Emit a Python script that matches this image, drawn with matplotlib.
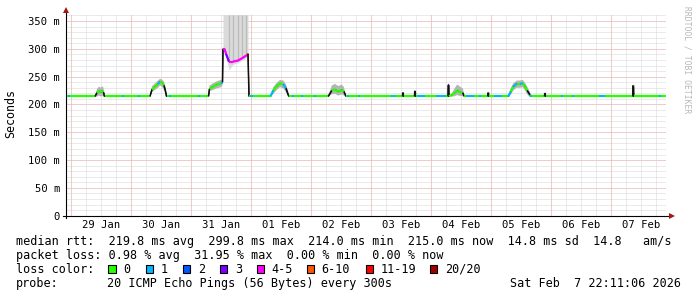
import matplotlib
matplotlib.use("Agg")
import matplotlib.pyplot as plt
from matplotlib.collections import LineCollection
from matplotlib.patches import Rectangle
import numpy as np

W, H = 697, 297

# time axis: hours since 29 Jan 00:00, graph ends Sat Feb 7 22:11
t_start, t_end = -1.82, 238.18
day_labels = ["29 Jan", "30 Jan", "31 Jan", "01 Feb", "02 Feb",
              "03 Feb", "04 Feb", "05 Feb", "06 Feb", "07 Feb"]

# median rtt (ms)
hours = [-1.82, 9.7, 10.5, 11.3, 12.1, 12.5, 13.1, 13.5,
         31.7, 32.5, 33.7, 34.9, 35.7, 36.5, 37.3, 37.9, 38.3,
         55.1, 55.5, 56.9, 58.5, 60.1, 60.7, 60.9, 61.5, 62.1, 63.3, 64.9,
         66.9, 68.9, 70.5, 70.9, 71.3,
         79.9, 81.0, 82.4, 83.7, 85.0, 86.1, 87.0, 87.4,
         103.0, 104.4, 105.7, 107.0, 108.4, 109.3, 110.1,
         132.7, 132.8, 133.0, 133.1,
         137.5, 137.6, 137.8, 137.9,
         150.9, 151.0, 151.2, 151.3,
         152.4, 153.7, 154.6, 155.7, 156.8, 157.3, 157.7,
         166.8, 166.9, 167.1, 167.2,
         175.0, 176.0, 177.0, 178.4, 179.7, 180.8, 181.7, 182.6, 183.7, 184.4,
         189.5, 189.6, 189.8, 189.9,
         224.8, 224.9, 225.1, 225.2,
         238.18]
median = [214.5, 214.5, 221, 224, 222, 225, 222, 214.5,
          214.5, 227, 232, 237, 241, 239, 234, 224, 214.5,
          214.5, 228, 232, 236, 238, 240, 300, 300, 291, 277, 277,
          279, 284, 289, 291, 214.5,
          214.5, 225, 233, 238, 236, 229, 217, 214.5,
          214.5, 225, 227, 223, 226, 223, 214.5,
          214.5, 221, 221, 214.5,
          214.5, 224, 224, 214.5,
          214.5, 235, 235, 214.5,
          217, 221, 225, 222, 221, 215, 214.5,
          214.5, 221, 221, 214.5,
          214.5, 223, 232, 237, 237, 238, 232, 225, 217, 214.5,
          214.5, 220, 220, 214.5,
          214.5, 234, 234, 214.5,
          214.5]
smoke_hi = [214.5, 214.5, 228, 232, 230, 233, 230, 214.5,
            214.5, 233, 238, 243, 246, 245, 241, 232, 214.5,
            214.5, 234, 238, 242, 244, 246, 400, 400, 400, 400, 400,
            400, 400, 400, 400, 214.5,
            214.5, 231, 239, 244, 243, 236, 224, 214.5,
            214.5, 234, 237, 233, 236, 231, 214.5,
            214.5, 221, 221, 214.5,
            214.5, 224, 224, 214.5,
            214.5, 235, 235, 214.5,
            220, 230, 236, 232, 229, 220, 214.5,
            214.5, 221, 221, 214.5,
            214.5, 229, 238, 243, 243, 244, 239, 232, 222, 214.5,
            214.5, 220, 220, 214.5,
            214.5, 234, 234, 214.5,
            214.5]
smoke_lo = [214.5, 214.5, 214, 216, 214, 216, 214, 214.5,
            214.5, 222, 226, 230, 234, 232, 226, 218, 214.5,
            214.5, 224, 226, 229, 231, 234, 296, 295, 285, 262, 272,
            275, 280, 285, 287, 214.5,
            214.5, 219, 226, 231, 229, 222, 213, 214.5,
            214.5, 218, 219, 216, 218, 216, 214.5,
            214.5, 221, 221, 214.5,
            214.5, 224, 224, 214.5,
            214.5, 235, 235, 214.5,
            214, 215, 217, 215, 215, 214, 214.5,
            214.5, 221, 221, 214.5,
            214.5, 217, 225, 230, 230, 231, 225, 218, 213, 214.5,
            214.5, 220, 220, 214.5,
            214.5, 234, 234, 214.5,
            214.5]
# loss class of the segment starting at each point (-1 = steep edge, drawn dark)
seg_loss = [0, -1, 0, 0, 0, 0, -1, 0,
            -1, 0, 0, 1, 0, 0, -1, -1, 0,
            -1, 0, 0, 0, 1, -1, 4, 4, 3, 4, 4,
            4, 4, 5, -1, 0,
            1, 0, 0, 0, 1, -1, -1, 0,
            -1, 0, 0, 0, 0, -1, 0,
            -1, 0, -1, 0,
            -1, 0, -1, 0,
            -1, 3, -1, 0,
            0, 0, 0, 0, -1, 0, 0,
            -1, 1, -1, 0,
            1, 0, 1, 0, 1, 0, 0, -1, 0, 0,
            -1, -1, -1, 0,
            -1, 0, -1, 0,
            0]

# single lost pings on the flat baseline
baseline_ms = 214.5
loss1_hours = [-0.6, 20.8, 27.4, 39.7, 51.1, 72.0, 72.6, 88.9, 92.4, 97.7,
               111.0, 115.4, 128.4, 129.7, 139.0, 139.8, 140.6, 141.4,
               146.5, 147.3, 148.1, 148.9, 149.7, 158.5, 159.3, 160.1, 160.9,
               163.7, 169.7, 170.5, 171.3, 172.1, 184.0, 196.4, 201.0,
               211.7, 212.5, 213.3, 235.7]

# outlier streaks during the loss period on 31 Jan
streak_hours = [63.3, 64.9, 66.9, 68.5, 70.1]
streak_bottom = [277, 277, 279, 283, 288]

loss_labels = ["0", "1", "2", "3", "4-5", "6-10", "11-19", "20/20"]
loss_colors = ["#26ff00", "#00b8ff", "#0059ff", "#7e00ff",
               "#ff00fe", "#ff5500", "#ff0000", "#a00000"]

y_ticks = [0, 50, 100, 150, 200, 250, 300, 350]
y_tick_labels = ["0", "50 m", "100 m", "150 m", "200 m", "250 m", "300 m", "350 m"]
y_top = 361.7

mono = "DejaVu Sans Mono"

fig = plt.figure(figsize=(W / 100, H / 100), dpi=100)
fig.patch.set_facecolor("white")
ax_l, ax_r, ax_t, ax_b = 66.2, 666.2, 14.5, 215.7
ax = fig.add_axes([ax_l / W, 1 - ax_b / H, (ax_r - ax_l) / W, (ax_b - ax_t) / H])
ax.set_xlim(t_start, t_end)
ax.set_ylim(0, y_top)
for s in ax.spines.values():
    s.set_visible(False)

# dotted grid
dots = (0, (1, 1))
minor_c, major_c = "#d6d6d6", "#f0b0b0"
for v in np.arange(10, y_top, 10):
    ax.axhline(v, color=minor_c, lw=0.72, ls=dots, zorder=0)
for v in y_ticks[1:]:
    ax.axhline(v, color=major_c, lw=0.72, ls=dots, zorder=0)
for h in np.arange(0, t_end, 6):
    ax.axvline(h, color=minor_c, lw=0.72, ls=dots, zorder=0)
for h in np.arange(0, t_end, 24):
    ax.axvline(h, color=major_c, lw=0.72, ls=dots, zorder=0)

# smoke: tall outliers light, normal jitter darker
tall = np.array(smoke_hi) > y_top
ax.fill_between(hours, smoke_lo, smoke_hi, where=tall, color="#dadada", lw=0, zorder=1)
ax.fill_between(hours, smoke_lo, smoke_hi, where=~tall, color="#b4b4b4", lw=0, zorder=1)
ax.vlines(streak_hours, streak_bottom, y_top, color="#bcbcbc", lw=0.9, zorder=1)

# median line, coloured by loss
ax.plot(hours, median, color="#202020", lw=0.8, zorder=2)
pts = np.column_stack([hours, median])
segs, cols, lws = [], [], []
for i in range(len(hours) - 1):
    segs.append([pts[i], pts[i + 1]])
    if seg_loss[i] < 0:
        cols.append("#101010")
        lws.append(1.1)
    else:
        cols.append(loss_colors[seg_loss[i]])
        lws.append(1.6)
ax.add_collection(LineCollection(segs, colors=cols, linewidths=lws, zorder=3,
                                 capstyle="butt"))
ax.plot(loss1_hours, [baseline_ms] * len(loss1_hours), ls="none", marker="s",
        ms=1.7, mew=0, color=loss_colors[1], zorder=4)

# ticks and labels
ax.set_yticks(y_ticks, y_tick_labels)
ax.set_xticks(np.arange(12, t_end, 24), day_labels)
ax.tick_params(length=0, labelsize=7.6, colors="black")
ax.tick_params(axis="y", pad=4.4)
ax.tick_params(axis="x", pad=3.4)
for lab in ax.get_xticklabels() + ax.get_yticklabels():
    lab.set_family(mono)

# axes with arrows
ax.plot([-0.006, 1.006], [0, 0], transform=ax.transAxes, color="black",
        lw=0.8, clip_on=False, zorder=6)
ax.plot([0, 0], [-0.011, 1.01], transform=ax.transAxes, color="black",
        lw=0.8, clip_on=False, zorder=6)
ax.plot([1.0095], [0], transform=ax.transAxes, marker=">", ms=4, mew=0,
        color="#a01818", clip_on=False, zorder=7)
ax.plot([0], [1.02], transform=ax.transAxes, marker="^", ms=4, mew=0,
        color="#a01818", clip_on=False, zorder=7)

fig.text(10.5 / W, 1 - 114 / H, "Seconds", rotation=90, ha="center",
         va="center", family=mono, fontsize=8.4)
fig.text(687 / W, 1 - 60 / H, "RRDTOOL / TOBI OETIKER", rotation=-90,
         ha="center", va="center", family=mono, fontsize=5.8, color="#b8b8b8")

# legend text
fs = 8.45
x0 = 16 / W
fig.text(x0, 1 - 244.7 / H,
         "median rtt:  219.8 ms avg  299.8 ms max  214.0 ms min  215.0 ms now  14.8 ms sd  14.8   am/s",
         family=mono, fontsize=fs, va="baseline")
fig.text(x0, 1 - 258.7 / H,
         "packet loss: 0.98 % avg  31.95 % max  0.00 % min  0.00 % now",
         family=mono, fontsize=fs, va="baseline")
fig.text(x0, 1 - 272.7 / H, "loss color:", family=mono, fontsize=fs, va="baseline")
box_x = [108.3, 145.7, 183, 220, 257, 307, 366, 430]
for bx, lab, c in zip(box_x, loss_labels, loss_colors):
    fig.patches.append(Rectangle((bx / W, 1 - 272.7 / H), 7.4 / W, 8.2 / H,
                                 transform=fig.transFigure, facecolor=c,
                                 edgecolor="black", lw=0.8))
    fig.text((bx + 14.7) / W, 1 - 272.7 / H, lab, family=mono, fontsize=fs,
             va="baseline")
fig.text(x0, 1 - 286.7 / H, "probe:", family=mono, fontsize=fs, va="baseline")
fig.text(107.3 / W, 1 - 286.7 / H, "20 ICMP Echo Pings (56 Bytes) every 300s",
         family=mono, fontsize=fs, va="baseline")
fig.text(681 / W, 1 - 286.7 / H, "Sat Feb  7 22:11:06 2026", ha="right",
         family=mono, fontsize=fs, va="baseline")

fig.savefig("out.png", dpi=100, facecolor="white")
